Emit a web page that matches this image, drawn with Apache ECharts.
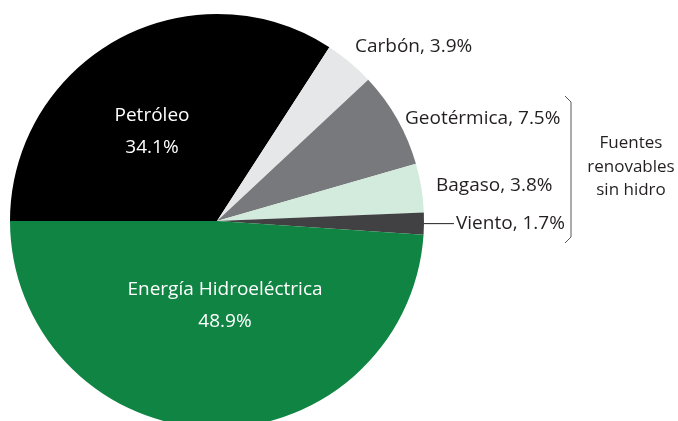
<!DOCTYPE html>
<html>
<head>
<meta charset="utf-8">
<script src="https://cdn.jsdelivr.net/npm/echarts@6/dist/echarts.min.js"></script>
<style>
  html, body { margin: 0; padding: 0; background: #fff; }
  #chart { width: 678px; height: 421px; }
</style>
</head>
<body>
<div id="chart"></div>
<script>
// Data
const categories = ["Petróleo", "Carbón", "Geotérmica", "Bagaso", "Viento", "Energía Hidroeléctrica"];
const shares = [34.1, 3.9, 7.5, 3.8, 1.7, 48.9];
const sliceColors = ["#000000", "#e6e7e8", "#78797c", "#d2ebdc", "#414042", "#108443"];

// where each label's text sits (Viento keeps the default outside layout with its line)
const labelSpots = [
  { x: 152, y: 132, align: "center" },
  { x: 355, y: 47, align: "left" },
  { x: 405, y: 119, align: "left" },
  { x: 436, y: 186, align: "left" },
  null,
  { x: 225, y: 306, align: "center" },
];

const font = "'Open Sans', 'Noto Sans', sans-serif";
const textColor = "#231f20";

const insideLabel = {
  position: "inside",
  color: "#ffffff",
  fontSize: 19,
  lineHeight: 32,
  fontFamily: font,
  align: "center",
  formatter: (p) => p.name + "\n" + p.value.toFixed(1) + "%",
};
const outsideLabel = {
  position: "outside",
  color: textColor,
  fontSize: 19,
  fontFamily: font,
  formatter: (p) => p.name + ", " + p.value.toFixed(1) + "%",
};

const pieData = categories.map((name, i) => {
  const inside = i === 0 || i === 5;
  return {
    name,
    value: shares[i],
    itemStyle: { color: sliceColors[i] },
    label: inside ? insideLabel : outsideLabel,
    labelLine: { show: name === "Viento", length: 2, length2: 28, lineStyle: { color: "#231f20", width: 1 } },
  };
});

const myChart = echarts.init(document.getElementById("chart"), null, { renderer: "canvas" });

myChart.setOption({
  animation: false,
  series: [
    {
      type: "pie",
      center: [217, 221],
      radius: 207,
      startAngle: 180,
      clockwise: true,
      avoidLabelOverlap: false,
      emphasis: { disabled: true },
      label: { distanceToLabelLine: 2 },
      labelLayout: (params) => {
        const spot = labelSpots[params.dataIndex];
        if (!spot) return {};
        return { x: spot.x, y: spot.y, align: spot.align, verticalAlign: "middle" };
      },
      data: pieData,
    },
  ],
  graphic: [
    {
      type: "polyline",
      shape: { points: [[565, 96], [571, 102], [571, 237], [565, 243]] },
      style: { stroke: "#58595b", lineWidth: 1, fill: null },
    },
    {
      type: "text",
      x: 631,
      y: 167,
      style: {
        text: "Fuentes\nrenovables\nsin hidro",
        fill: textColor,
        fontSize: 17,
        fontFamily: font,
        align: "center",
        verticalAlign: "middle",
        lineHeight: 23.5,
      },
    },
  ],
});
</script>
</body>
</html>
